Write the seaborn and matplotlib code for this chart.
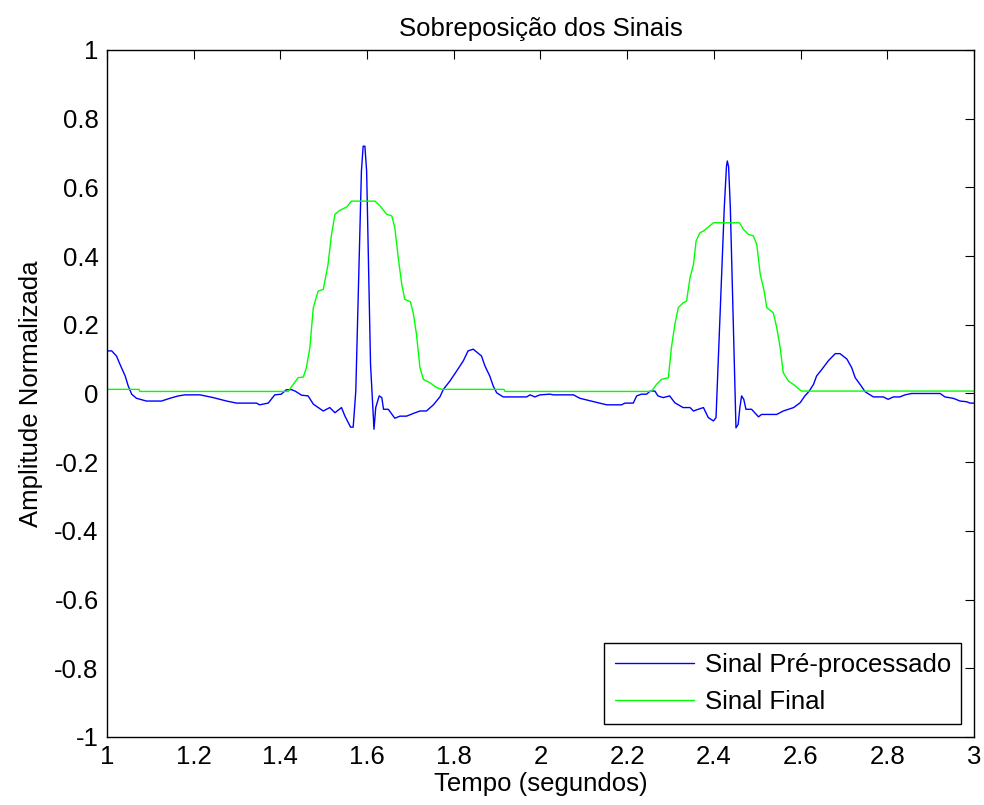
import pandas as pd
import matplotlib
matplotlib.use("Agg")
import matplotlib.pyplot as plt
import seaborn as sns

# Sinal pre-processado (azul)
pre_t = [1.000, 1.011, 1.022, 1.030, 1.042, 1.049, 1.057, 1.068, 1.091, 1.126,
         1.145, 1.165, 1.180, 1.215, 1.245, 1.276, 1.299, 1.345, 1.352, 1.372,
         1.387, 1.402, 1.414, 1.426, 1.434, 1.449, 1.464, 1.476, 1.499, 1.514,
         1.526, 1.541, 1.549, 1.562, 1.568, 1.574, 1.587, 1.591, 1.595, 1.599,
         1.608, 1.616, 1.620, 1.628, 1.634, 1.638, 1.649, 1.664, 1.676, 1.691,
         1.707, 1.722, 1.737, 1.753, 1.768, 1.776, 1.791, 1.807, 1.822, 1.833,
         1.845, 1.864, 1.872, 1.883, 1.891, 1.899, 1.914, 1.968, 1.976, 1.987,
         1.999, 2.022, 2.030, 2.076, 2.091, 2.110, 2.133, 2.153, 2.187, 2.195,
         2.214, 2.222, 2.233, 2.245, 2.253, 2.264, 2.271, 2.283, 2.298, 2.310,
         2.329, 2.345, 2.353, 2.364, 2.376, 2.387, 2.399, 2.405, 2.424, 2.429,
         2.431, 2.434, 2.438, 2.451, 2.456, 2.460, 2.464, 2.469, 2.474, 2.487,
         2.503, 2.510, 2.530, 2.545, 2.560, 2.584, 2.599, 2.610, 2.620, 2.630,
         2.637, 2.649, 2.664, 2.680, 2.691, 2.707, 2.718, 2.726, 2.737, 2.749,
         2.768, 2.791, 2.802, 2.814, 2.829, 2.841, 2.856, 2.922, 2.933, 2.952,
         2.968, 2.983, 2.991, 3.000]
pre_y = [0.124, 0.124, 0.109, 0.085, 0.051, 0.022, -0.002, -0.014, -0.022, -0.022,
         -0.014, -0.007, -0.004, -0.004, -0.012, -0.022, -0.028, -0.028, -0.033, -0.028,
         -0.004, -0.002, 0.011, 0.011, 0.007, -0.005, -0.007, -0.031, -0.051, -0.041,
         -0.056, -0.041, -0.066, -0.098, -0.098, 0.007, 0.648, 0.720, 0.720, 0.648,
         0.085, -0.104, -0.041, -0.007, -0.012, -0.046, -0.046, -0.072, -0.066, -0.066,
         -0.058, -0.051, -0.051, -0.033, -0.010, 0.012, 0.036, 0.066, 0.095, 0.124,
         0.129, 0.109, 0.080, 0.051, 0.022, 0.002, -0.010, -0.010, -0.004, -0.010,
         -0.004, -0.002, -0.004, -0.004, -0.014, -0.020, -0.027, -0.033, -0.033, -0.028,
         -0.028, -0.007, -0.002, -0.002, 0.007, 0.007, -0.007, -0.012, -0.007, -0.027,
         -0.041, -0.041, -0.051, -0.046, -0.041, -0.070, -0.080, -0.070, 0.541, 0.660,
         0.677, 0.660, 0.541, -0.100, -0.090, -0.041, -0.007, -0.017, -0.046, -0.046,
         -0.068, -0.061, -0.061, -0.061, -0.051, -0.041, -0.027, -0.007, 0.007, 0.027,
         0.051, 0.070, 0.095, 0.116, 0.116, 0.100, 0.075, 0.046, 0.027, 0.005,
         -0.010, -0.010, -0.017, -0.010, -0.010, -0.004, 0.000, 0.000, -0.010, -0.014,
         -0.022, -0.024, -0.028, -0.028]

# Sinal final (verde)
fin_t = [1.000, 1.074, 1.076, 1.418, 1.430, 1.441, 1.453, 1.460, 1.468, 1.476,
         1.487, 1.499, 1.510, 1.518, 1.526, 1.537, 1.553, 1.564, 1.618, 1.630,
         1.645, 1.657, 1.664, 1.672, 1.680, 1.687, 1.700, 1.707, 1.714, 1.722,
         1.730, 1.745, 1.761, 1.772, 1.916, 1.918, 2.256, 2.268, 2.279, 2.295,
         2.302, 2.310, 2.318, 2.329, 2.337, 2.345, 2.353, 2.359, 2.368, 2.376,
         2.399, 2.459, 2.468, 2.480, 2.491, 2.499, 2.507, 2.516, 2.522, 2.537,
         2.545, 2.553, 2.560, 2.572, 2.583, 2.602, 3.000]
fin_y = [0.012, 0.012, 0.006, 0.006, 0.027, 0.046, 0.048, 0.075, 0.133, 0.250,
         0.298, 0.303, 0.376, 0.463, 0.522, 0.533, 0.543, 0.560, 0.560, 0.546,
         0.522, 0.517, 0.483, 0.395, 0.318, 0.274, 0.267, 0.231, 0.172, 0.075,
         0.041, 0.031, 0.017, 0.012, 0.012, 0.006, 0.006, 0.027, 0.041, 0.046,
         0.133, 0.201, 0.250, 0.264, 0.269, 0.337, 0.376, 0.444, 0.468, 0.473,
         0.497, 0.497, 0.478, 0.463, 0.459, 0.434, 0.347, 0.298, 0.250, 0.235,
         0.192, 0.133, 0.061, 0.036, 0.027, 0.007, 0.007]

labels = ["Sinal Pré-processado", "Sinal Final"]
colors = {"Sinal Pré-processado": "#0000ff", "Sinal Final": "#00ff00"}

x_ticks = [1, 1.2, 1.4, 1.6, 1.8, 2, 2.2, 2.4, 2.6, 2.8, 3]
y_ticks = [-1, -0.8, -0.6, -0.4, -0.2, 0, 0.2, 0.4, 0.6, 0.8, 1]

df = pd.concat([
    pd.DataFrame({"t": pre_t, "y": pre_y, "sinal": labels[0]}),
    pd.DataFrame({"t": fin_t, "y": fin_y, "sinal": labels[1]}),
], ignore_index=True)

sns.set_style("white")
plt.rcParams["font.family"] = ["Liberation Sans", "DejaVu Sans"]
plt.rcParams["text.color"] = "black"
plt.rcParams["axes.labelcolor"] = "black"
plt.rcParams["xtick.color"] = "black"
plt.rcParams["ytick.color"] = "black"
fs = 18.5

fig, ax = plt.subplots(figsize=(9.84, 8.05), dpi=100)
fig.subplots_adjust(left=0.1087, right=0.9898, bottom=0.0845, top=0.9379)

sns.lineplot(data=df, x="t", y="y", hue="sinal", palette=colors,
             estimator=None, sort=False, linewidth=1.0, ax=ax)

ax.set_xlim(1, 3)
ax.set_ylim(-1, 1)
ax.set_xticks(x_ticks)
ax.set_xticklabels([f"{v:g}" for v in x_ticks], fontsize=fs)
ax.set_yticks(y_ticks)
ax.set_yticklabels([f"{v:g}" for v in y_ticks], fontsize=fs)
ax.tick_params(direction="in", top=True, right=True, length=6.5, width=0.8,
               color="black", labelcolor="black", pad=6)
for sp in ax.spines.values():
    sp.set_color("black")
    sp.set_linewidth(1.0)

ax.set_title("Sobreposição dos Sinais", fontsize=fs, pad=10, color="black")
ax.set_xlabel("Tempo (segundos)", fontsize=fs, labelpad=2, color="black")
ax.set_ylabel("Amplitude Normalizada", fontsize=fs, labelpad=8, color="black")

leg = ax.legend(loc="lower right", fontsize=fs, frameon=True, fancybox=False,
                framealpha=1, edgecolor="black", handlelength=3.1,
                handletextpad=0.4, borderaxespad=0.5)
leg.get_frame().set_linewidth(1.0)
for line in leg.get_lines():
    line.set_linewidth(1.0)
for txt in leg.get_texts():
    txt.set_color("black")

fig.savefig("out.png", dpi=100)
